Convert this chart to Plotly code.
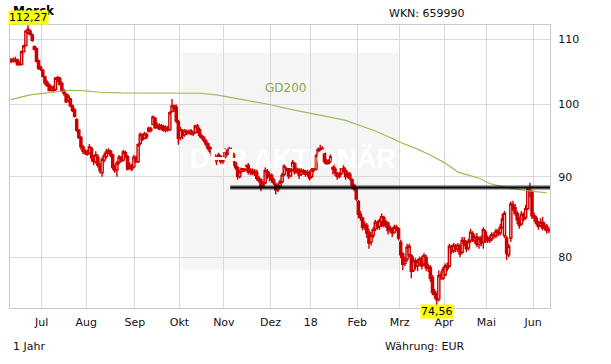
import math
import pandas as pd
import plotly.graph_objects as go

# ---------------- data ----------------
holidays = ["2017-10-03", "2017-12-25", "2017-12-26", "2018-01-01",
            "2018-03-30", "2018-04-02", "2018-05-01"]
dates = [d for d in pd.bdate_range("2017-06-12", "2018-06-12")
         if d.strftime("%Y-%m-%d") not in holidays]

month_labels = ["Jul", "Aug", "Sep", "Okt", "Nov", "Dez", "18",
                "Feb", "Mrz", "Apr", "Mai", "Jun"]
y_ticks = [80, 90, 100, 110]

open_ = [
    106.7, 106.5, 106.8, 106.7, 106.0, 106.0, 108.0, 109.0, 111.0, 111.3,
    110.7, 108.8, 108.5, 106.6, 105.6, 105.1, 104.1, 103.3, 102.9, 102.2,
    102.5, 102.2, 103.9, 103.9, 103.1, 102.0, 101.5, 100.6, 100.8, 99.8,
    99.2, 97.8, 96.3, 95.3, 94.0, 93.4, 93.3, 93.2, 93.8, 92.6,
    92.0, 92.6, 91.4, 90.5, 92.2, 92.7, 93.2, 93.4, 92.9, 91.3,
    90.9, 91.9, 92.5, 92.2, 93.2, 92.7, 91.2, 91.4, 91.3, 92.5,
    92.0, 94.5, 95.6, 95.2, 95.7, 96.2, 96.5, 97.1, 98.0, 96.8,
    97.0, 96.6, 96.8, 96.3, 96.6, 96.4, 99.0, 99.8, 99.6, 97.5,
    95.3, 96.2, 95.7, 96.1, 96.0, 96.2, 95.8, 96.0, 96.9, 96.4,
    95.5, 95.3, 94.8, 94.4, 93.9, 93.4, 92.9, 92.1, 92.5, 92.7,
    92.0, 92.6, 93.4, 93.1, 93.6, 93.0, 91.8, 91.2, 90.0, 90.7,
    91.0, 90.9, 91.5, 90.6, 90.8, 90.4, 90.6, 89.8, 89.6, 88.8,
    89.2, 90.7, 90.0, 90.2, 89.6, 89.0, 88.3, 88.8, 89.3, 90.3,
    91.3, 91.2, 90.1, 90.9, 91.7, 90.6, 90.9, 90.3, 90.8, 90.6,
    90.3, 90.5, 90.0, 90.9, 91.0, 92.9, 93.5, 93.8, 93.2, 92.1,
    91.7, 92.0, 92.4, 91.0, 90.4, 90.0, 90.4, 91.2, 90.8, 90.1,
    90.3, 89.6, 88.9, 88.4, 86.8, 85.2, 84.7, 83.7, 83.8, 83.0,
    81.8, 82.6, 83.4, 84.1, 83.7, 84.3, 84.8, 83.9, 84.1, 83.2,
    83.4, 83.0, 83.6, 83.4, 81.8, 80.4, 79.3, 79.8, 80.3, 80.2,
    78.5, 79.6, 79.0, 79.4, 79.8, 79.2, 80.0, 78.8, 78.8, 77.7,
    76.1, 75.7, 75.3, 77.8, 77.6, 78.0, 79.0, 79.0, 81.2, 80.8,
    81.3, 81.0, 81.3, 80.6, 82.0, 81.6, 81.1, 82.0, 82.8, 82.0,
    82.4, 81.5, 82.3, 81.8, 83.0, 82.0, 82.3, 82.2, 82.7, 82.6,
    83.1, 82.9, 83.6, 82.6, 82.3, 80.3, 82.3, 86.4, 86.0, 85.3,
    84.5, 84.0, 85.1, 84.8, 85.9, 88.2, 88.0, 85.0, 84.7, 84.0,
    83.8, 84.2, 83.6, 83.7, 83.2,
]
high = [
    107.0, 107.1, 107.2, 106.9, 106.5, 108.2, 109.1, 111.5, 112.27, 111.6,
    110.9, 109.0, 108.7, 106.8, 105.8, 105.3, 104.3, 103.6, 103.1, 102.8,
    102.8, 104.1, 104.3, 104.1, 103.4, 102.3, 101.7, 101.5, 101.0, 100.0,
    99.5, 98.0, 96.5, 95.5, 94.3, 93.7, 93.6, 94.4, 94.0, 92.9,
    93.4, 93.0, 91.8, 92.6, 93.2, 93.7, 93.8, 93.6, 93.1, 91.6,
    92.1, 92.9, 92.8, 93.6, 93.5, 92.9, 91.9, 91.7, 92.9, 92.8,
    94.5, 96.0, 95.9, 96.1, 96.0, 96.8, 96.8, 98.4, 98.2, 97.4,
    97.3, 97.2, 97.1, 97.0, 96.9, 99.0, 100.8, 100.0, 100.0, 97.8,
    96.8, 96.5, 96.5, 96.4, 96.4, 96.5, 96.2, 97.1, 97.2, 96.7,
    95.8, 95.5, 95.1, 94.6, 94.1, 93.6, 93.1, 92.8, 93.2, 92.9,
    92.6, 93.8, 93.7, 94.0, 93.9, 93.2, 92.0, 91.4, 90.9, 91.4,
    91.3, 91.6, 91.8, 91.1, 91.1, 91.0, 90.9, 90.1, 89.8, 89.4,
    91.2, 91.0, 90.6, 90.4, 89.9, 89.2, 89.1, 89.6, 90.5, 91.7,
    91.6, 91.5, 91.1, 92.2, 91.9, 91.2, 91.2, 91.1, 91.0, 90.9,
    90.9, 90.8, 91.2, 91.5, 93.0, 93.9, 94.3, 94.1, 93.5, 92.4,
    92.3, 93.0, 92.6, 91.3, 90.6, 90.6, 91.6, 91.5, 91.1, 90.7,
    90.6, 89.8, 89.1, 88.6, 87.0, 85.6, 84.9, 84.3, 84.1, 83.4,
    83.0, 83.6, 84.5, 84.4, 84.7, 85.3, 85.0, 84.5, 84.3, 83.8,
    83.6, 83.9, 83.9, 83.6, 82.1, 80.6, 80.1, 81.6, 81.6, 80.4,
    80.1, 79.9, 79.8, 80.1, 80.2, 80.5, 80.3, 79.3, 79.1, 78.0,
    76.4, 76.0, 78.5, 78.4, 78.9, 79.3, 79.4, 81.6, 81.5, 81.7,
    81.6, 81.7, 81.6, 82.4, 82.4, 82.0, 82.2, 83.4, 83.1, 82.7,
    82.9, 82.5, 82.6, 83.6, 83.3, 82.6, 82.6, 83.0, 83.0, 83.4,
    83.4, 84.0, 85.3, 85.6, 82.6, 81.6, 86.8, 86.9, 86.5, 85.6,
    84.9, 85.6, 85.4, 86.4, 88.6, 89.2, 88.3, 85.4, 85.0, 84.4,
    84.7, 84.9, 84.2, 84.0, 83.6,
]
low = [
    106.2, 106.3, 106.3, 105.8, 105.8, 105.9, 107.9, 108.9, 110.8, 110.6,
    109.6, 108.2, 106.3, 105.2, 105.0, 104.0, 102.9, 102.6, 101.9, 101.9,
    101.8, 102.0, 103.3, 102.8, 101.8, 101.3, 100.2, 100.3, 99.6, 98.9,
    98.1, 96.1, 95.1, 93.6, 93.0, 92.9, 92.8, 93.0, 92.0, 91.5,
    91.7, 91.2, 90.4, 90.0, 91.9, 92.4, 93.0, 92.6, 90.9, 90.5,
    90.0, 91.6, 91.9, 92.0, 92.5, 90.8, 90.9, 90.7, 91.1, 91.8,
    91.8, 94.2, 94.8, 95.0, 95.1, 96.0, 96.0, 97.0, 96.5, 96.5,
    96.3, 96.3, 96.1, 96.0, 96.1, 96.2, 98.8, 98.9, 97.3, 94.3,
    94.9, 95.1, 95.4, 95.6, 95.7, 95.6, 95.5, 95.8, 95.9, 95.3,
    95.0, 94.6, 94.1, 93.5, 93.1, 92.5, 91.8, 91.3, 92.2, 91.7,
    91.7, 92.4, 92.8, 92.9, 92.8, 91.4, 90.9, 89.6, 89.8, 90.5,
    90.6, 90.7, 90.3, 90.2, 90.2, 90.1, 89.5, 89.2, 88.1, 88.5,
    89.0, 89.7, 89.4, 89.2, 88.9, 87.7, 88.0, 88.6, 89.1, 90.1,
    90.7, 89.7, 89.9, 90.7, 90.3, 90.4, 89.7, 90.1, 90.3, 90.0,
    90.0, 89.5, 89.8, 90.6, 90.8, 92.6, 93.2, 93.0, 91.7, 91.4,
    91.4, 91.6, 90.3, 90.1, 89.6, 89.8, 90.2, 90.5, 89.6, 89.8,
    89.5, 88.4, 88.1, 86.9, 84.7, 84.4, 83.2, 83.3, 82.3, 81.0,
    81.4, 82.3, 83.1, 83.3, 83.3, 83.6, 83.6, 83.5, 82.7, 82.9,
    82.4, 82.8, 83.1, 82.0, 79.9, 78.5, 79.0, 79.5, 80.0, 77.6,
    78.3, 78.6, 78.4, 79.0, 78.6, 79.0, 78.4, 78.3, 77.2, 75.7,
    75.3, 74.56, 75.0, 77.4, 77.4, 77.8, 78.4, 78.8, 80.4, 80.5,
    80.6, 80.6, 80.0, 80.4, 81.3, 80.6, 80.8, 81.7, 81.8, 81.6,
    81.2, 81.0, 81.3, 81.0, 81.7, 81.7, 81.7, 81.9, 82.2, 82.3,
    82.5, 82.6, 83.4, 82.3, 79.7, 80.0, 81.8, 85.6, 85.0, 84.0,
    83.4, 83.8, 84.3, 84.5, 85.7, 87.3, 84.6, 84.3, 83.8, 83.3,
    83.6, 83.2, 83.2, 82.8, 82.9,
]
close = [
    106.5, 106.8, 106.6, 106.0, 106.2, 108.0, 108.9, 111.3, 111.6, 110.8,
    109.8, 108.4, 106.5, 105.4, 105.3, 104.2, 103.2, 102.8, 102.1, 102.6,
    102.1, 103.9, 104.0, 103.0, 102.0, 101.6, 100.4, 101.2, 99.8, 99.1,
    98.3, 96.3, 95.3, 94.0, 93.4, 93.2, 93.0, 94.0, 92.5, 92.0,
    92.9, 91.5, 90.8, 92.3, 92.8, 93.3, 93.5, 92.9, 91.2, 90.8,
    91.8, 92.6, 92.1, 93.3, 92.8, 91.0, 91.5, 91.0, 92.6, 92.0,
    94.3, 95.7, 95.0, 95.8, 95.4, 96.6, 96.3, 98.2, 96.7, 97.0,
    96.5, 96.9, 96.3, 96.7, 96.4, 98.8, 99.8, 99.4, 97.6, 95.2,
    96.4, 95.6, 96.2, 95.9, 96.1, 95.8, 95.9, 96.9, 96.5, 95.6,
    95.3, 94.9, 94.4, 93.8, 93.4, 92.8, 92.1, 92.5, 92.9, 92.0,
    92.3, 93.5, 93.0, 93.7, 93.1, 91.7, 91.2, 90.0, 90.6, 91.1,
    90.8, 91.4, 90.6, 90.9, 90.4, 90.7, 89.8, 89.5, 88.7, 89.1,
    90.8, 90.0, 90.2, 89.6, 89.2, 88.3, 88.8, 89.3, 90.2, 91.4,
    91.0, 90.1, 90.8, 91.9, 90.6, 90.9, 90.2, 90.8, 90.6, 90.3,
    90.6, 89.8, 90.9, 91.2, 92.8, 93.6, 93.8, 93.3, 92.0, 91.7,
    91.9, 92.7, 91.0, 90.5, 90.0, 90.3, 91.3, 90.8, 90.0, 90.4,
    89.8, 88.9, 88.4, 87.1, 85.2, 84.8, 83.6, 83.9, 82.9, 81.7,
    82.6, 83.3, 84.2, 83.6, 84.4, 84.9, 83.8, 84.2, 83.2, 83.5,
    82.9, 83.6, 83.4, 82.3, 80.3, 79.2, 79.7, 81.2, 81.3, 78.4,
    79.6, 79.0, 79.5, 79.8, 79.0, 80.2, 78.8, 78.9, 77.6, 76.0,
    75.8, 75.2, 77.9, 78.0, 78.6, 79.0, 78.7, 81.3, 80.7, 81.4,
    81.0, 81.4, 80.4, 82.0, 81.6, 81.0, 81.9, 83.0, 82.0, 82.4,
    81.5, 82.2, 81.7, 83.3, 82.0, 82.3, 82.0, 82.7, 82.5, 83.1,
    82.8, 83.6, 84.6, 85.3, 80.5, 81.3, 86.5, 85.9, 85.3, 84.5,
    83.8, 85.2, 84.6, 85.9, 88.3, 88.1, 85.0, 84.8, 84.1, 83.7,
    84.2, 83.5, 83.8, 83.2, 83.3,
]

# GD200 (200-day average) at sample days
gd200_day = [0, 4, 9, 14, 21, 28, 35, 42, 52, 66, 78, 89, 97, 106, 113, 122,
             132, 141, 150, 158, 164, 172, 179, 184, 191, 198, 205, 211, 216,
             221, 226, 232, 240, 249, 253]
gd200_val = [100.7, 101.0, 101.4, 101.6, 101.9, 102.1, 102.0, 101.8, 101.7,
             101.7, 101.7, 101.65, 101.4, 100.9, 100.5, 100.0, 99.3, 98.7,
             98.2, 97.7, 97.1, 96.2, 95.3, 94.6, 93.8, 92.9, 91.8, 90.6, 90.2,
             89.8, 89.1, 88.7, 88.3, 88.0, 87.9]

resistance_level = 88.6
resistance_start_day = 103.5

# ---------------- figure ----------------
N = len(dates)
xs = list(range(N))
tick_pos = [i - 0.5 for i in range(1, N) if dates[i].month != dates[i - 1].month]

RED = "#cc0000"
GRID = "#d9d9d9"
FONT = "DejaVu Sans"

fig = go.Figure()

# watermark text (drawn under the candles)
fig.add_trace(go.Scatter(
    x=[133], y=[92.0], mode="text", text=["<b>DER AKTIONÄR</b>"],
    textfont=dict(family="Liberation Sans", size=27, color="white"),
    hoverinfo="skip", showlegend=False))

fig.add_trace(go.Scatter(
    x=gd200_day, y=gd200_val, mode="lines",
    line=dict(color="#9cbd5c", width=1.2), hoverinfo="skip", showlegend=False))

fig.add_trace(go.Candlestick(
    x=xs, open=open_, high=high, low=low, close=close,
    increasing=dict(line=dict(color=RED, width=1.4), fillcolor="white"),
    decreasing=dict(line=dict(color=RED, width=1.4), fillcolor=RED),
    whiskerwidth=0, showlegend=False))

# resistance line with soft shadow
fig.add_trace(go.Scatter(
    x=[resistance_start_day, N - 0.5], y=[resistance_level, resistance_level],
    mode="lines", line=dict(color="rgba(0,0,0,0.35)", width=5),
    hoverinfo="skip", showlegend=False))
fig.add_trace(go.Scatter(
    x=[resistance_start_day, N - 0.5], y=[resistance_level, resistance_level],
    mode="lines", line=dict(color="black", width=2),
    hoverinfo="skip", showlegend=False))

i_max = high.index(max(high))
i_min = low.index(min(low))

def de(v):
    return f"{v:.2f}".replace(".", ",")

annotations = [
    dict(text="<b>Merck</b>", xref="paper", yref="paper", x=0, y=1.0495,
         xanchor="left", yanchor="middle", xshift=1, showarrow=False,
         font=dict(family=FONT, size=12, color="black")),
    dict(text=de(max(high)), xref="x", yref="paper", x=i_max, y=1,
         xanchor="center", yanchor="bottom", showarrow=False,
         bgcolor="#ffff00", borderpad=0,
         font=dict(family=FONT, size=11, color="black")),
    dict(text=de(min(low)), xref="x", yref="paper", x=i_min, y=0,
         xanchor="center", yanchor="top", yshift=4, showarrow=False,
         bgcolor="#ffff00", borderpad=0,
         font=dict(family=FONT, size=11, color="black")),
    dict(text="WKN: 659990", xref="paper", yref="paper", x=0.8463, y=1.0389,
         xanchor="right", yanchor="middle", showarrow=False,
         font=dict(family=FONT, size=11, color="#111111")),
    dict(text="1 Jahr", xref="paper", yref="paper", x=0.002, y=-0.135,
         xanchor="left", yanchor="middle", showarrow=False,
         font=dict(family=FONT, size=11, color="#111111")),
    dict(text="Währung: EUR", xref="paper", yref="paper", x=0.8463, y=-0.135,
         xanchor="right", yanchor="middle", showarrow=False,
         font=dict(family=FONT, size=11, color="#111111")),
    dict(text="GD200", xref="paper", yref="paper", x=0.511, y=0.779,
         xanchor="center", yanchor="middle", showarrow=False,
         font=dict(family=FONT, size=12, color="#8aa64e")),
]

fig.update_layout(
    width=611, height=364,
    margin=dict(l=10, r=61, t=25, b=56, autoexpand=False),
    plot_bgcolor="white", paper_bgcolor="white",
    showlegend=False, boxgap=0.0, boxgroupgap=0,
    annotations=annotations,
    shapes=[dict(type="rect", xref="paper", yref="paper",
                 x0=0.3194, x1=0.7204, y0=0.1343, y1=0.9028,
                 fillcolor="#f5f5f5", line=dict(width=0), layer="below")],
    xaxis=dict(range=[-0.5, N - 0.5], tickmode="array", tickvals=tick_pos,
               ticktext=month_labels, showgrid=True, gridcolor=GRID,
               gridwidth=1, zeroline=False, showline=True, linecolor="#c8c8c8",
               linewidth=1, mirror=True, rangeslider=dict(visible=False),
               ticks="outside", ticklen=4, tickcolor="rgba(0,0,0,0)",
               tickfont=dict(family=FONT, size=11, color="#111111")),
    yaxis=dict(type="log", side="right",
               range=[math.log10(74.3), math.log10(112.3)],
               tickmode="array", tickvals=y_ticks,
               ticktext=[str(v) for v in y_ticks], showgrid=True,
               gridcolor=GRID, gridwidth=1, zeroline=False, showline=True,
               linecolor="#c8c8c8", linewidth=1, mirror=True,
               ticks="outside", ticklen=5, tickcolor="rgba(0,0,0,0)",
               tickfont=dict(family=FONT, size=11, color="#111111")),
)

fig.write_html("out.html",
               config={"displayModeBar": False},
               post_script="document.body.style.margin='0px';"
                           "document.body.style.padding='0px';")
